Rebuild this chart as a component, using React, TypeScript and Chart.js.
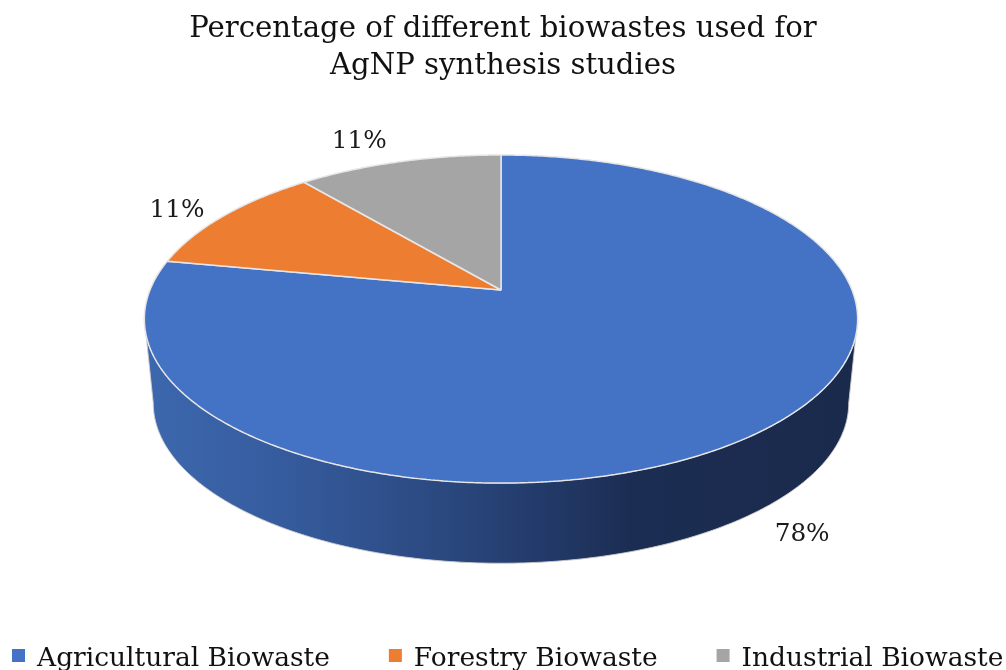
import { useEffect, useRef } from 'react';
import { Chart, registerables } from 'chart.js';

Chart.register(...registerables);

const TITLE_LINES = ['Percentage of different biowastes used for', 'AgNP synthesis studies'];
const CATEGORIES = ['Agricultural Biowaste', 'Forestry Biowaste', 'Industrial Biowaste'];
const VALUES = [78, 11, 11];
const VALUE_LABELS = ['78%', '11%', '11%'];
const COLORS = ['#4472c4', '#ed7d31', '#a5a5a5'];

const FONT = "'DejaVu Serif', serif";

// 3D view geometry (perspective tilt of the pie plane)
const CX = 501;
const CY = 290;
const KX = 351;
const KY = 158.9;
const PERSP = 0.177;
const DEPTH = 85;
const BOTTOM_SCALE = 0.975;

function proj(a: number, b: number, bottom = false): [number, number] {
  const w = 1 - PERSP * b;
  const s = bottom ? BOTTOM_SCALE : 1;
  return [CX + (KX * s * a) / w, CY + (bottom ? DEPTH : 0) + (KY * s * b) / w];
}

function fitSize(text: string, width: number) {
  const c = document.createElement('canvas').getContext('2d')!;
  c.font = `100px ${FONT}`;
  return (100 * width) / c.measureText(text).width;
}

function drawSide(ctx: CanvasRenderingContext2D) {
  const t0 = Math.asin(PERSP);
  const t1 = Math.PI - t0;
  const n = 200;
  ctx.save();
  ctx.beginPath();
  for (let i = 0; i <= n; i++) {
    const t = t0 + ((t1 - t0) * i) / n;
    const p = proj(Math.cos(t), Math.sin(t));
    if (i === 0) ctx.moveTo(p[0], p[1]);
    else ctx.lineTo(p[0], p[1]);
  }
  for (let i = n; i >= 0; i--) {
    const t = t0 + ((t1 - t0) * i) / n;
    const p = proj(Math.cos(t), Math.sin(t), true);
    ctx.lineTo(p[0], p[1]);
  }
  ctx.closePath();
  const g = ctx.createLinearGradient(145, 0, 858, 0);
  g.addColorStop(0, '#3d68ae');
  g.addColorStop(0.2, '#355b9d');
  g.addColorStop(0.4, '#2c4a82');
  g.addColorStop(0.55, '#233b6b');
  g.addColorStop(0.68, '#1c2d53');
  g.addColorStop(1, '#1a2a4c');
  ctx.fillStyle = g;
  ctx.fill();
  ctx.strokeStyle = 'rgba(205,205,205,0.9)';
  ctx.lineWidth = 1;
  ctx.stroke();
  ctx.restore();
}

const pie3d = {
  id: 'pie3d',
  beforeDatasetsDraw(chart: any) {
    const ctx = chart.ctx as any;
    const meta = chart.getDatasetMeta(0);
    const arc = meta.data[0] as any;
    const ox = arc.x;
    const oy = arc.y;
    const R = arc.outerRadius;
    drawSide(ctx);
    const toScreen = (x: number, y: number) => proj((x - ox) / R, (y - oy) / R);
    const proto = CanvasRenderingContext2D.prototype;
    ctx.moveTo = function (x: number, y: number) {
      const p = toScreen(x, y);
      proto.moveTo.call(this, p[0], p[1]);
    };
    ctx.lineTo = function (x: number, y: number) {
      const p = toScreen(x, y);
      proto.lineTo.call(this, p[0], p[1]);
    };
    ctx.arc = function (x: number, y: number, r: number, s: number, e: number, ccw?: boolean) {
      if (!(r > 0) || !isFinite(s) || !isFinite(e)) {
        const p = toScreen(x, y);
        proto.lineTo.call(this, p[0], p[1]);
        return;
      }
      const TAU = Math.PI * 2;
      let sweep: number;
      if (!ccw) {
        sweep = e - s;
        sweep = sweep >= TAU ? TAU : ((sweep % TAU) + TAU) % TAU;
      } else {
        sweep = s - e;
        sweep = sweep >= TAU ? TAU : ((sweep % TAU) + TAU) % TAU;
        sweep = -sweep;
      }
      const n = Math.max(2, Math.ceil(Math.abs(sweep) / 0.01));
      for (let i = 0; i <= n; i++) {
        const t = s + (sweep * i) / n;
        const p = toScreen(x + r * Math.cos(t), y + r * Math.sin(t));
        proto.lineTo.call(this, p[0], p[1]);
      }
    };
  },
  afterDatasetsDraw(chart: any, _args: any, opts: any) {
    const ctx = chart.ctx as any;
    delete ctx.moveTo;
    delete ctx.lineTo;
    delete ctx.arc;
    const meta = chart.getDatasetMeta(0);
    ctx.save();
    ctx.font = `${opts.labelSize}px ${FONT}`;
    ctx.fillStyle = '#1a1a1a';
    ctx.textAlign = 'center';
    ctx.textBaseline = 'alphabetic';
    meta.data.forEach((el: any, i: number) => {
      const mid = (el.startAngle + el.endAngle) / 2;
      const a = Math.cos(mid);
      const b = Math.sin(mid);
      const front = b > 0;
      const edge = proj(a, b, front);
      const cx = CX;
      const cy = CY + (front ? DEPTH : 0);
      let dx = edge[0] - cx;
      let dy = edge[1] - cy;
      const len = Math.hypot(dx, dy) || 1;
      dx /= len;
      dy /= len;
      const text = VALUE_LABELS[i];
      const hw = ctx.measureText(text).width / 2;
      const hh = opts.labelSize * 0.37;
      const gap = front ? 24 : 20;
      const tx = edge[0] + dx * gap + Math.sign(dx) * hw;
      const ty = edge[1] + dy * gap + dy * hh * (front ? 1.6 : 1);
      ctx.fillText(text, tx, ty + hh);
    });
    ctx.restore();
  },
  afterDraw(chart: any, _args: any, opts: any) {
    const ctx = chart.ctx;
    ctx.save();
    ctx.font = `${opts.legendSize}px ${FONT}`;
    ctx.textBaseline = 'alphabetic';
    ctx.textAlign = 'left';
    let x = 12;
    const box = 13;
    CATEGORIES.forEach((name, i) => {
      ctx.fillStyle = COLORS[i];
      ctx.fillRect(x, 649, box, box);
      ctx.fillStyle = '#111';
      ctx.fillText(name, x + box + 12, 666);
      x += box + 12 + ctx.measureText(name).width + 59;
    });
    ctx.restore();
  },
};

export default function App() {
  const ref = useRef<HTMLCanvasElement>(null);
  useEffect(() => {
    const titleSize = fitSize(TITLE_LINES[0], 628);
    const legendSize = fitSize(CATEGORIES[0], 293);
    const labelSize = fitSize(VALUE_LABELS[0], 55);
    const chart = new Chart(ref.current!, {
      type: 'pie',
      data: {
        labels: CATEGORIES,
        datasets: [
          {
            data: VALUES,
            backgroundColor: COLORS,
            borderColor: '#e6e6e6',
            borderWidth: 1.5,
          },
        ],
      },
      options: {
        responsive: false,
        animation: false,
        events: [],
        layout: { padding: 0 },
        plugins: {
          legend: { display: false },
          tooltip: { enabled: false },
          title: {
            display: true,
            text: TITLE_LINES,
            color: '#111',
            font: { family: FONT, size: titleSize, weight: 'normal', lineHeight: 37 / titleSize },
            padding: { top: 10.5, bottom: 10 },
          },
          pie3d: { labelSize, legendSize },
        } as any,
      },
      plugins: [pie3d],
    });
    return () => chart.destroy();
  }, []);
  return (
    <div style={{ position: 'absolute', left: 0, top: 0, width: 1006, height: 670, background: '#fff' }}>
      <canvas ref={ref} width={1006} height={670} style={{ display: 'block' }} />
    </div>
  );
}
